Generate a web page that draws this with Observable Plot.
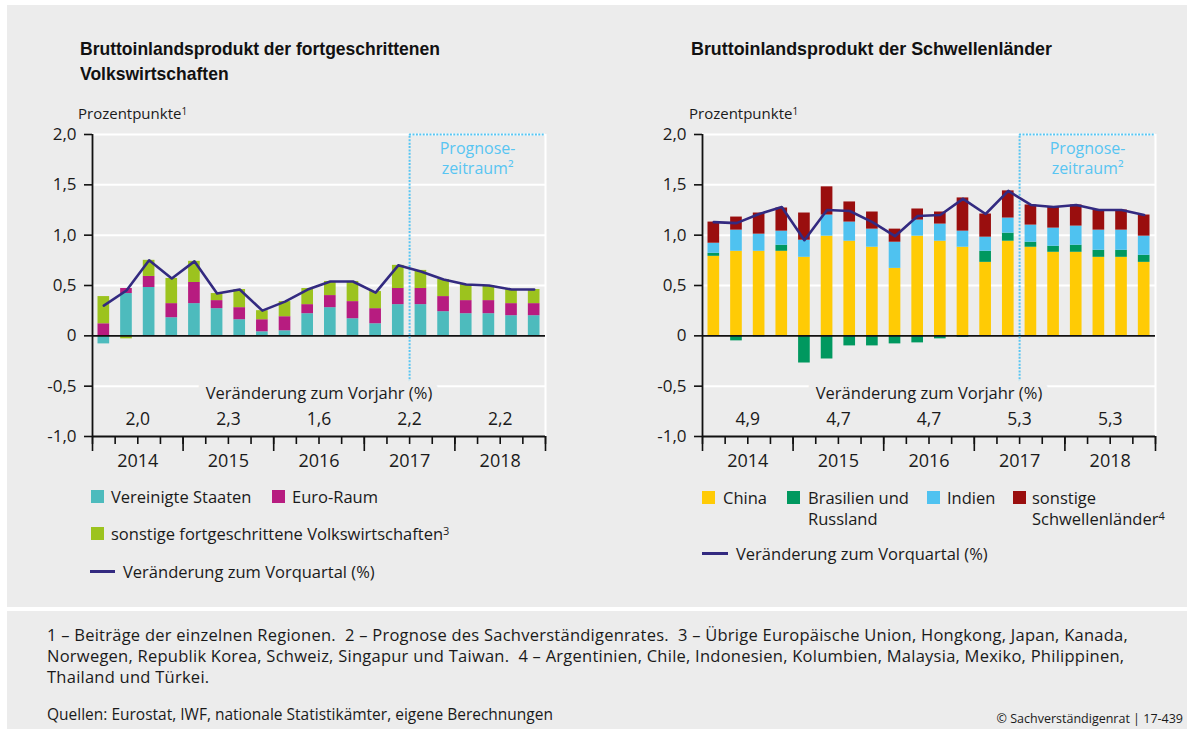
<!DOCTYPE html>
<html>
<head>
<meta charset="utf-8">
<script src="https://cdn.jsdelivr.net/npm/d3@7"></script>
<script src="https://cdn.jsdelivr.net/npm/@observablehq/plot@0.6"></script>
<style>
  body { margin: 0; background: #fff; }
  #page { position: relative; width: 1187px; height: 729px; overflow: hidden; font-family: "Open Sans", sans-serif; color: #1a1a1a; }
  .bg { position: absolute; background: #ececec; }
  .abs { position: absolute; white-space: pre; }
  .title { position: absolute; font-family: "Liberation Sans Narrow", "Liberation Sans", sans-serif; font-weight: bold; font-size: 19px; line-height: 25px; transform-origin: 0 0; white-space: pre; color: #111; }
  .unit { font-size: 15px; line-height: 20px; }
  sup { line-height: 0; vertical-align: 0.45em; }
  .leg { position: absolute; font-size: 16.5px; line-height: 21px; white-space: pre; }
  .sq { position: absolute; width: 13px; height: 13px; }
  .ln { position: absolute; height: 3px; background: #332a80; }
  .foot { position: absolute; left: 47px; font-size: 16.5px; letter-spacing: 0.25px; line-height: 21px; white-space: pre; }
</style>
</head>
<body>
<div id="page">
  <div class="bg" style="left:7px;top:5px;width:1180px;height:602px"></div>
  <div class="bg" style="left:7px;top:611px;width:1180px;height:118px"></div>

  <div class="title" id="t1" style="left:80px;top:36px"><span id="t1a">Bruttoinlandsprodukt der fortgeschrittenen</span><br>Volkswirtschaften</div>
  <div class="title" id="t2" style="left:691px;top:36px"><span id="t2a">Bruttoinlandsprodukt der Schwellenländer</span></div>

  <div class="abs unit" style="left:78px;top:103px">Prozentpunkte<sup style="font-size:10px">1</sup></div>
  <div class="abs unit" style="left:689px;top:103px">Prozentpunkte<sup style="font-size:10px">1</sup></div>

  <div id="left" style="position:absolute;left:0;top:120px"></div>
  <div id="right" style="position:absolute;left:610px;top:120px"></div>

  <div id="legL"></div>
  <div id="legR"></div>

  <div class="foot" style="top:624px">1 – Beiträge der einzelnen Regionen.  2 – Prognose des Sachverständigenrates.  3 – Übrige Europäische Union, Hongkong, Japan, Kanada,</div>
  <div class="foot" style="top:645px">Norwegen, Republik Korea, Schweiz, Singapur und Taiwan.  4 – Argentinien, Chile, Indonesien, Kolumbien, Malaysia, Mexiko, Philippinen,</div>
  <div class="foot" style="top:666px">Thailand und Türkei.</div>
  <div class="foot" style="top:704px;font-size:15.5px;letter-spacing:0">Quellen: Eurostat, IWF, nationale Statistikämter, eigene Berechnungen</div>
  <div class="abs" style="right:4px;top:711px;font-size:12.5px;line-height:16px">© Sachverständigenrat | 17-439</div>
</div>

<script>
// ---------- data ----------
const quarters = ["2014 Q1","2014 Q2","2014 Q3","2014 Q4","2015 Q1","2015 Q2","2015 Q3","2015 Q4",
  "2016 Q1","2016 Q2","2016 Q3","2016 Q4","2017 Q1","2017 Q2","2017 Q3","2017 Q4",
  "2018 Q1","2018 Q2","2018 Q3","2018 Q4"];
const years = ["2014","2015","2016","2017","2018"];
const forecastStart = "2017 Q3";

// Fortgeschrittene Volkswirtschaften (Beiträge in Prozentpunkten)
const usa   = [-0.08,0.42,0.48,0.18,0.32,0.27,0.16,0.04,0.05,0.22,0.28,0.17,0.12,0.31,0.31,0.24,0.22,0.22,0.20,0.20];
const euro  = [0.12,0.05,0.11,0.14,0.21,0.08,0.12,0.12,0.14,0.09,0.12,0.17,0.15,0.16,0.16,0.15,0.13,0.13,0.12,0.12];
const sonstAdv = [0.27,-0.03,0.16,0.25,0.21,0.07,0.18,0.09,0.15,0.16,0.14,0.20,0.17,0.23,0.18,0.17,0.16,0.15,0.14,0.14];
const advLine = [0.30,0.45,0.75,0.57,0.74,0.42,0.46,0.25,0.34,0.46,0.54,0.54,0.43,0.70,0.64,0.56,0.51,0.50,0.46,0.46];
const advAnnual = [2.0,2.3,1.6,2.2,2.2];

// Schwellenländer
const china  = [0.79,0.84,0.84,0.84,0.78,0.99,0.94,0.88,0.67,0.99,0.94,0.88,0.73,0.94,0.88,0.83,0.83,0.78,0.78,0.73];
const brarus = [0.03,-0.05,-0.01,0.06,-0.27,-0.23,-0.10,-0.10,-0.08,-0.07,-0.03,-0.015,0.11,0.08,0.05,0.06,0.07,0.07,0.07,0.07];
const indien = [0.10,0.21,0.17,0.14,0.17,0.21,0.19,0.18,0.26,0.16,0.17,0.16,0.14,0.15,0.17,0.18,0.19,0.20,0.20,0.19];
const sonstEm = [0.21,0.13,0.21,0.23,0.27,0.28,0.20,0.17,0.13,0.11,0.12,0.33,0.23,0.27,0.20,0.21,0.21,0.20,0.20,0.21];
const emLine = [1.13,1.12,1.21,1.28,0.95,1.25,1.24,1.13,0.99,1.19,1.20,1.36,1.21,1.44,1.30,1.28,1.30,1.25,1.25,1.20];
const emAnnual = [4.9,4.7,4.7,5.3,5.3];

const yTicks = [-1,-0.5,0,0.5,1,1.5,2];
const advNames = ["Vereinigte Staaten","Euro-Raum","sonstige fortgeschrittene Volkswirtschaften"];
const advColors = ["#4dbbbd","#b71c80","#9cc31e"];
const emNames = ["China","Brasilien und Russland","Indien","sonstige Schwellenländer"];
const emColors = ["#ffcb05","#00985f","#4fc2f0","#9a0e0e"];
const lineColor = "#332a80";
const progColor = "#58c5f2";
const bg = "#ececec";

const deFmt = d => d === 0 ? "0" : d.toFixed(1).replace(".", ",");

function panel(names, colors, seriesArr, lineVals, annual) {
  const rows = [];
  seriesArr.forEach((vals, s) => vals.forEach((v, i) => rows.push({i, i2: i + 1, v, s: names[s]})));
  const lineRows = lineVals.map((v, i) => ({x: i + 0.5, v}));
  const annualRows = annual.map((v, k) => ({x: 4 * k + 2, t: deFmt(v)}));
  const fs = quarters.indexOf(forecastStart);
  const n = quarters.length;
  return Plot.plot({
    width: 560, height: 360,
    marginLeft: 92, marginRight: 15, marginTop: 14, marginBottom: 44,
    style: {background: "transparent", fontFamily: "'Open Sans', sans-serif", color: "#1a1a1a", overflow: "visible"},
    x: {domain: [0, n], axis: null},
    y: {domain: [-1, 2], axis: null},
    color: {domain: names, range: colors},
    marks: [
      Plot.ruleY([2, 1.5, 1, 0.5, -0.5], {stroke: "white", strokeWidth: 2}),
      Plot.ruleX([n], {stroke: "white", strokeWidth: 2}),
      Plot.rectY(rows, {x1: "i", x2: "i2", y: "v", fill: "s", insetLeft: 5.5, insetRight: 5.5}),
      Plot.ruleY([0], {stroke: "#111", strokeWidth: 1.6}),
      Plot.ruleX([fs], {y1: -0.47, y2: 2, stroke: progColor, strokeWidth: 2, strokeDasharray: "2,1.4"}),
      Plot.ruleY([2], {x1: fs, x2: n, stroke: progColor, strokeWidth: 2, strokeDasharray: "2,1.4"}),
      Plot.text(["Prognose-\nzeitraum²"], {x: (fs + n) / 2, y: 1.95, lineAnchor: "top", fill: progColor, fontSize: 16, lineHeight: 1.25}),
      Plot.line(lineRows, {x: "x", y: "v", stroke: lineColor, strokeWidth: 2.6}),
      Plot.text(["Veränderung zum Vorjahr (%)"], {x: n / 2, y: -0.575, fontSize: 16.5, fill: "#1a1a1a", stroke: bg, strokeWidth: 14, paintOrder: "stroke"}),
      Plot.text(annualRows, {x: "x", y: -0.835, text: "t", fontSize: 17.5, fill: "#1a1a1a"}),
      Plot.ruleX([0], {stroke: "#111", strokeWidth: 1.8}),
      Plot.ruleY([-1], {stroke: "#111", strokeWidth: 1.8}),
      Plot.axisY({ticks: yTicks, tickSize: 8, tickPadding: 8, tickFormat: deFmt, fontSize: 17, stroke: "#111", strokeWidth: 1.6, label: null, fill: "#1a1a1a"}),
      Plot.axisX({ticks: d3.range(n + 1), tickSize: 8, tickFormat: () => "", stroke: "#111", strokeWidth: 1.6, label: null}),
      Plot.axisX({ticks: d3.range(0, n + 1, 4), tickSize: 15, tickFormat: () => "", stroke: "#111", strokeWidth: 1.6, label: null}),
      Plot.axisX({ticks: years.map((y, k) => 4 * k + 2), tickSize: 0, tickPadding: 18, tickFormat: d => years[(d - 2) / 4], fontSize: 18, fill: "#1a1a1a", label: null})
    ]
  });
}

document.getElementById("left").append(panel(advNames, advColors, [usa, euro, sonstAdv], advLine, advAnnual));
document.getElementById("right").append(panel(emNames, emColors, [china, brarus, indien, sonstEm], emLine, emAnnual));

// ---------- legends ----------
function sq(parent, x, yc, color) {
  const d = document.createElement("div");
  d.className = "sq"; d.style.left = x + "px"; d.style.top = (yc - 6.5) + "px"; d.style.background = color;
  parent.append(d);
}
function lab(parent, x, yc, html) {
  const d = document.createElement("div");
  d.className = "leg"; d.style.left = x + "px"; d.style.top = (yc - 10.5) + "px"; d.innerHTML = html;
  parent.append(d);
}
function lineKey(parent, x, w, yc) {
  const d = document.createElement("div");
  d.className = "ln"; d.style.left = x + "px"; d.style.top = (yc - 1.5) + "px"; d.style.width = w + "px";
  parent.append(d);
}
const L = document.getElementById("legL");
sq(L, 91, 496, advColors[0]); lab(L, 111, 496, advNames[0]);
sq(L, 272, 496, advColors[1]); lab(L, 292, 496, advNames[1]);
sq(L, 91, 533, advColors[2]); lab(L, 111, 533, 'sonstige fortgeschrittene Volkswirtschaften<sup style="font-size:11px">3</sup>');
lineKey(L, 90, 25, 571); lab(L, 123, 571, "Veränderung zum Vorquartal (%)");

const R = document.getElementById("legR");
sq(R, 702, 497, emColors[0]); lab(R, 723, 497, emNames[0]);
sq(R, 787, 497, emColors[1]); lab(R, 808, 497, "Brasilien und"); lab(R, 808, 518, "Russland");
sq(R, 927, 497, emColors[2]); lab(R, 947, 497, emNames[2]);
sq(R, 1013, 497, emColors[3]); lab(R, 1032, 497, "sonstige"); lab(R, 1032, 518, 'Schwellenländer<sup style="font-size:11px">4</sup>');
lineKey(R, 702, 26, 553); lab(R, 736, 553, "Veränderung zum Vorquartal (%)");

// ---------- fit condensed titles ----------
function fit(id, spanId, target) {
  const w = document.getElementById(spanId).getBoundingClientRect().width;
  if (w > 0) document.getElementById(id).style.transform = `scaleX(${target / w})`;
}
fit("t1", "t1a", 360);
fit("t2", "t2a", 361);
</script>
</body>
</html>
